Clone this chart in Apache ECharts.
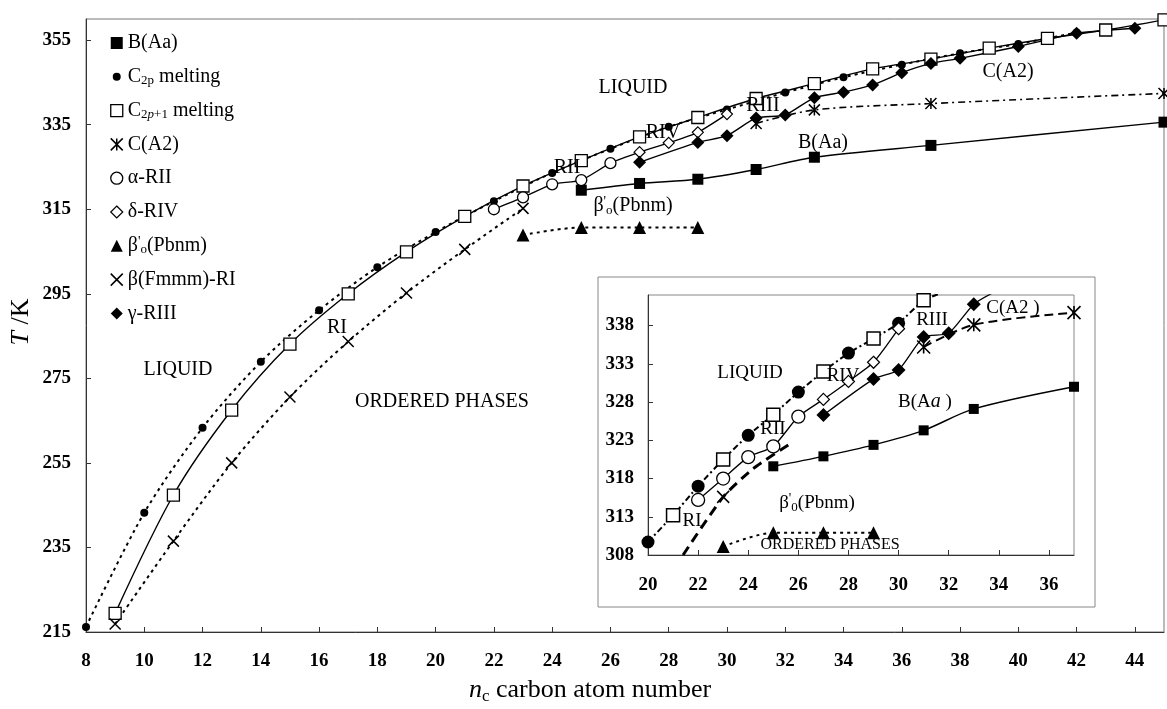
<!DOCTYPE html>
<html><head><meta charset="utf-8">
<script src="https://cdn.jsdelivr.net/npm/echarts@6/dist/echarts.min.js"></script>
<style>html,body{margin:0;padding:0;background:#fff}#c{width:1167px;height:709px}</style>
</head><body><div id="c"></div>
<script>
// ---------- DATA (main diagram) ----------
const evenN = [8,10,12,14,16,18,20,22,24,26,28,30,32,34,36,38,40,42];
const evenT = [216.2,243.2,263.3,278.9,291.1,301.3,309.6,316.9,323.6,329.3,334.5,338.6,342.6,346.2,349.2,351.9,354.1,356.8];
const oddN = [9,11,13,15,17,19,21,23,25,27,29,31,33,35,37,39,41,43,45];
const oddT = [219.4,247.4,267.5,283.1,295.0,304.9,313.3,320.5,326.5,332.1,336.7,341.2,344.7,348.2,350.5,353.1,355.4,357.4,359.8];
const riN = [9,11,13,15,17,19,21,23];
const riT = [216.9,236.5,255.0,270.6,283.7,295.2,305.5,315.2];
const alphaN = [22,23,24,25,26];
const alphaT = [315.0,317.8,320.9,321.9,325.9];
const deltaN = [27,28,29,30];
const deltaT = [328.5,330.7,333.2,337.5];
const gammaN = [27,29,30,31,32,33,34,35,36,37,38,40,42,44];
const gammaT = [326.1,330.8,332.4,336.6,337.3,341.4,342.7,344.4,347.3,349.5,350.7,353.5,356.6,357.8];
const bAaN = [25,27,29,31,33,37,45];
const bAaT = [319.5,321.1,322.1,324.4,327.3,330.1,335.6];
const cA2N = [31,33,37,45];
const cA2T = [335.3,338.5,340.0,342.4];
const betaN = [23,25,27,29];
const betaT = [308.9,310.7,310.7,310.7];

// ---------- DATA (inset) ----------
const inEvenN = [20,22,24,26,28,30,32];
const inEvenT = [309.7,317.0,323.65,329.3,334.4,338.3,342.6];
const inOddN = [21,23,25,27,29,31];
const inOddT = [313.2,320.5,326.35,332.0,336.3,341.3];
const inAlphaN = [22,23,24,25,26];
const inAlphaT = [315.2,318.0,320.8,322.2,326.1];
const inDeltaN = [27,28,29,30];
const inDeltaT = [328.35,330.7,333.2,337.6];
const inGammaN = [27,29,30,31,32,33,34];
const inGammaT = [326.3,331.0,332.2,336.5,337.0,340.8,342.7];
const inCA2N = [31,33,37];
const inCA2T = [335.2,338.1,339.7];
const inBN = [25,27,29,31,33,37];
const inBT = [319.6,320.9,322.4,324.3,327.1,330.0];
const inBetaN = [23,25,27,29];
const inBetaT = [309.1,310.9,310.9,310.9];
const inRIN = [23];
const inRIT = [315.6];
const inRICurveN = [21.4,23,24.2,25.6];
const inRICurveT = [308.0,315.6,319.3,322.4];

// ---------- LABELS ----------
const legendNames = ['B(Aa)','C2p melting','C2p+1 melting','C(A2)','α-RII','δ-RIV',"β'o(Pbnm)",'β(Fmmm)-RI','γ-RIII'];
const legendRich = {
  'B(Aa)':'B(Aa)',
  'C2p melting':'C{sub|2p} melting',
  'C2p+1 melting':'C{sub|2}{subi|p}{sub|+1} melting',
  'C(A2)':'C(A2)',
  'α-RII':'α-RII',
  'δ-RIV':'δ-RIV',
  "β'o(Pbnm)":"β{sup|'}{sub|o}(Pbnm)",
  'β(Fmmm)-RI':'β(Fmmm)-RI',
  'γ-RIII':'γ-RIII'
};

const SERIF = "'Liberation Serif','Times New Roman',serif";
const pts = (n,t)=>n.map((v,i)=>[v,t[i]]);
const merged = (a,b)=>a.concat(b).sort((p,q)=>p[0]-q[0]);

const AST = 'path://M0,0L10,10M10,0L0,10M5,0L5,10';
const CROSS = 'path://M0,0L10,10M10,0L0,10';
const DOT = 'path://M0,0M12,12M6,2A4,4,0,1,1,5.99,2Z';

function sc(name, data, symbol, size, fill, stroke, bw, ax){
  return {type:'scatter', name, data, symbol, symbolSize:size, xAxisIndex:ax, yAxisIndex:ax,
    itemStyle:{color:fill, borderColor:stroke, borderWidth:bw, opacity:1}, z:5, silent:true, clip:true};
}
function ln(name, data, type, width, ax, smooth){
  return {type:'line', name, data, symbol:'none', xAxisIndex:ax, yAxisIndex:ax,
    lineStyle:{color:'#000', width, type}, smooth:smooth, silent:true, z:3, clip:true};
}

const series = [
  // main lines
  ln('L-even', pts(evenN,evenT), [3,4], 2, 0, 0.3),
  ln('L-odd', pts(oddN,oddT), 'solid', 1.4, 0, 0.3),
  ln('L-ri', pts(riN,riT), [3,4], 2, 0, 0.3),
  ln('L-ad', merged(pts(alphaN,alphaT), pts(deltaN,deltaT)), 'solid', 1.4, 0, 0.2),
  ln('L-g', pts(gammaN,gammaT), 'solid', 1.4, 0, 0.2),
  ln('L-b', pts(bAaN,bAaT), 'solid', 1.4, 0, 0.3),
  ln('L-c', pts(cA2N,cA2T), [7,4,2,4], 1.6, 0, 0.3),
  ln('L-beta', pts(betaN,betaT), [3,4], 2, 0, 0.3),
  // main markers
  sc('B(Aa)', pts(bAaN,bAaT), 'rect', 11, '#000', '#000', 0, 0),
  sc('C2p melting', pts(evenN,evenT), 'circle', 8, '#000', '#000', 0, 0),
  sc('C2p+1 melting', pts(oddN,oddT), 'rect', 12, '#fff', '#000', 1.3, 0),
  sc('C(A2)', pts(cA2N,cA2T), AST, 11, '#000', '#000', 1.5, 0),
  sc('α-RII', pts(alphaN,alphaT), 'circle', 11, '#fff', '#000', 1.3, 0),
  sc('δ-RIV', pts(deltaN,deltaT), 'diamond', 11, '#fff', '#000', 1.2, 0),
  sc("β'o(Pbnm)", pts(betaN,betaT), 'triangle', 13, '#000', '#000', 0, 0),
  sc('β(Fmmm)-RI', pts(riN,riT), CROSS, 11, '#000', '#000', 1.5, 0),
  sc('γ-RIII', pts(gammaN,gammaT), 'diamond', 13, '#000', '#000', 0, 0),
  // inset lines
  ln('I-melt', merged(pts(inEvenN,inEvenT), pts(inOddN,inOddT)), [6,3,2,3], 2, 1, 0.2),
  ln('I-ad', merged(pts(inAlphaN,inAlphaT), pts(inDeltaN,inDeltaT)), 'solid', 1.3, 1, 0.2),
  ln('I-g', pts(inGammaN,inGammaT), 'solid', 1.3, 1, 0.2),
  ln('I-b', pts(inBN,inBT), 'solid', 1.4, 1, 0.3),
  ln('I-c', pts(inCA2N,inCA2T), [9,5], 2, 1, 0.3),
  ln('I-beta', pts(inBetaN,inBetaT), [3,4], 2, 1, 0.3),
  ln('I-ri', pts(inRICurveN,inRICurveT), [10,6], 3, 1, 0.2),
  // inset markers
  sc('i-even', pts(inEvenN,inEvenT), 'circle', 13, '#000', '#000', 0, 1),
  sc('i-odd', pts(inOddN,inOddT), 'rect', 13, '#fff', '#000', 1.5, 1),
  sc('i-alpha', pts(inAlphaN,inAlphaT), 'circle', 13, '#fff', '#000', 1.3, 1),
  sc('i-delta', pts(inDeltaN,inDeltaT), 'diamond', 12, '#fff', '#000', 1.2, 1),
  sc('i-gamma', pts(inGammaN,inGammaT), 'diamond', 14, '#000', '#000', 0, 1),
  sc('i-c', pts(inCA2N,inCA2T), AST, 13, '#000', '#000', 1.6, 1),
  sc('i-b', pts(inBN,inBT), 'rect', 10, '#000', '#000', 0, 1),
  sc('i-beta', pts(inBetaN,inBetaT), 'triangle', 13, '#000', '#000', 0, 1),
  sc('i-ri', pts(inRIN,inRIT), CROSS, 12, '#000', '#000', 1.5, 1)
];

const tickLabel = {fontFamily:SERIF, fontSize:19, fontWeight:'bold', color:'#000', showMaxLabel:false};
const axLine = {show:true, onZero:false, lineStyle:{color:'#333', width:1}};
const axTick = {show:true, inside:true, length:5, lineStyle:{color:'#333'}};

const richTok = {
  sub:{fontFamily:SERIF, fontSize:13, verticalAlign:'bottom', lineHeight:11, color:'#000'},
  subi:{fontFamily:SERIF, fontSize:13, fontStyle:'italic', verticalAlign:'bottom', lineHeight:11, color:'#000'},
  sup:{fontFamily:SERIF, fontSize:14, verticalAlign:'top', lineHeight:10, color:'#000'},
  it:{fontFamily:SERIF, fontSize:20, fontStyle:'italic', color:'#000'}
};
const gRich = {
  sub:{fontFamily:SERIF, fontSize:13, verticalAlign:'bottom', lineHeight:11, fill:'#000'},
  sup:{fontFamily:SERIF, fontSize:14, verticalAlign:'top', lineHeight:10, fill:'#000'},
  it:{fontFamily:SERIF, fontSize:20, fontStyle:'italic', fill:'#000'},
  bigit:{fontFamily:SERIF, fontSize:26, fontStyle:'italic', fill:'#000', lineHeight:30},
  bigsub:{fontFamily:SERIF, fontSize:17, verticalAlign:'bottom', lineHeight:18, fill:'#000'}
};
function txt(s, x, y, size){
  return {type:'text', x, y, z:20, silent:true,
    style:{text:s, fontFamily:SERIF, fontSize:size||20, lineHeight:22, fill:'#000',
      align:'center', verticalAlign:'middle', textAlign:'center', textVerticalAlign:'middle', rich:gRich}};
}

const legendData = [
  {name:legendNames[0], icon:'rect'},
  {name:legendNames[1], icon:DOT},
  {name:legendNames[2], icon:'rect', itemStyle:{borderWidth:1.3}},
  {name:legendNames[3], icon:AST, itemStyle:{borderWidth:1.5}},
  {name:legendNames[4], icon:'circle', itemStyle:{borderWidth:1.3}},
  {name:legendNames[5], icon:'diamond', itemStyle:{borderWidth:1.2}},
  {name:legendNames[6], icon:'triangle'},
  {name:legendNames[7], icon:CROSS, itemStyle:{borderWidth:1.5}},
  {name:legendNames[8], icon:'diamond'}
];

const option = {
  animation:false,
  backgroundColor:'#fff',
  grid:[
    {left:86, top:19, right:3, bottom:77, show:true, borderColor:'#777', borderWidth:1, backgroundColor:'transparent'},
    {left:648, top:295, width:426, height:260, show:true, borderColor:'#888', borderWidth:1, backgroundColor:'#fff'}
  ],
  xAxis:[
    {gridIndex:0, type:'value', min:8, max:45, interval:2, axisLine:axLine, axisTick:axTick,
      axisLabel:Object.assign({margin:20}, tickLabel), splitLine:{show:false}},
    {gridIndex:1, type:'value', min:20, max:37, interval:2, axisLine:axLine, axisTick:axTick,
      axisLabel:Object.assign({margin:21}, tickLabel), splitLine:{show:false}}
  ],
  yAxis:[
    {gridIndex:0, type:'value', min:215, max:360, interval:20, axisLine:axLine, axisTick:axTick,
      axisLabel:Object.assign({margin:15}, tickLabel), splitLine:{show:false}},
    {gridIndex:1, type:'value', min:308, max:342, interval:5, axisLine:axLine, axisTick:axTick,
      axisLabel:Object.assign({margin:14}, tickLabel), splitLine:{show:false}}
  ],
  legend:{
    orient:'vertical', left:105, top:28, padding:5, itemWidth:12, itemHeight:12, itemGap:13.8,
    selectedMode:false, data:legendData,
    formatter:(n)=>legendRich[n] || n,
    textStyle:{fontFamily:SERIF, fontSize:20, lineHeight:20, color:'#000', rich:richTok}
  },
  graphic:[
    {type:'rect', z:-1, silent:true, shape:{x:598, y:277, width:497, height:330},
      style:{fill:'#fff', stroke:'#888', lineWidth:1}},
    // axis titles
    {type:'text', x:21, y:322, rotation:Math.PI/2, z:20, silent:true,
      style:{text:'{bigit|T} /K', fontFamily:SERIF, fontSize:26, lineHeight:30, fill:'#000',
        align:'center', verticalAlign:'middle', textAlign:'center', textVerticalAlign:'middle', rich:gRich}},
    {type:'text', x:590, y:690, z:20, silent:true,
      style:{text:'{bigit|n}{bigsub|c} carbon atom number', fontFamily:SERIF, fontSize:26, lineHeight:30, fill:'#000',
        align:'center', verticalAlign:'middle', textAlign:'center', textVerticalAlign:'middle', rich:gRich}},
    // main annotations
    txt('LIQUID', 633, 88),
    txt('LIQUID', 178, 370),
    txt('RI', 337, 328),
    txt('ORDERED PHASES', 442, 402),
    txt('RII', 567, 168),
    txt('RIV', 663, 133),
    txt('RIII', 763, 106),
    txt('B(Aa)', 823, 143),
    txt('C(A2)', 1008, 72),
    txt("β{sup|'}{sub|o}(Pbnm)", 633, 206),
    // inset annotations
    txt('LIQUID', 750, 373, 19),
    txt('RIV', 843, 376, 19),
    txt('RII', 773, 429, 19),
    txt('RI', 692, 521, 19),
    txt('RIII', 932, 320, 19),
    txt('C(A2 )', 1013, 308, 19),
    txt('B(A{it|a} )', 925, 402, 19),
    txt("β{sup|'}{sub|0}(Pbnm)", 817, 503, 19),
    txt('ORDERED PHASES', 830, 545, 16)
  ],
  series
};
const chart = echarts.init(document.getElementById('c'), null, {renderer:'canvas'});
chart.setOption(option);
</script>
</body></html>
